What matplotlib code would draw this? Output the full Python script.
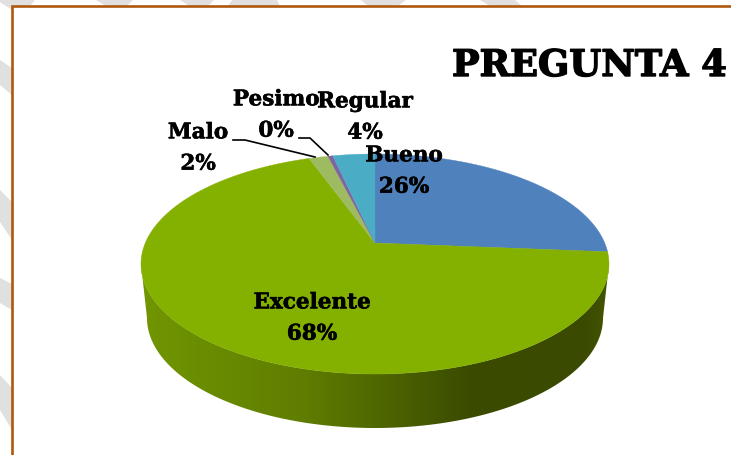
import matplotlib

matplotlib.use("Agg")
import matplotlib.patheffects as pe
import matplotlib.pyplot as plt
import numpy as np
from matplotlib.patches import Polygon

categories = ["Bueno", "Excelente", "Malo", "Pesimo", "Regular"]
shares = [26.3, 68.2, 1.6, 0.4, 3.5]

COLORS = ["#4f81bd", "#84b000", "#9fbb62", "#8064a2", "#4bacc6"]
LABEL_POS = [(404, 171), (312, 318), (198, 148), (276, 115), (365, 117)]
SIDE_STOPS = [0, 0.35, 0.7, 0.95, 1]
SIDE_SHADES = ["#719600", "#5f7d00", "#3b4c00", "#3a4a00", "#435600"]

# gray bands of the page behind the frame
BANDS = [
    [(0, 0), (35, 0), (30, 6), (12, 6), (12, 10), (0, 2)],
    [(96, 0), (133, 0), (127, 6), (106, 6)],
    [(180, 0), (214, 0), (208, 6), (189, 6)],
    [(232, 0), (277, 0), (280, 6), (228, 6)],
    [(361, 0), (406, 0), (398, 6), (368, 6)],
    [(480, 0), (515, 0), (522, 6), (490, 6)],
    [(0, 60), (0, 85), (12, 95), (12, 68)],
    [(0, 190), (0, 222), (12, 240), (12, 202)],
    [(0, 278), (0, 303), (12, 310), (12, 284)],
    [(0, 375), (0, 410), (12, 430), (12, 388)],
]

APEX_X, APEX_Y = 375, 243
PERSP = 0.191
SCALE_X, SCALE_Y = 229.7, 106
RIM_RX, RIM_RY, RIM_CY = 234, 110, 264
BASE_RX, BASE_CY = 228, 318


def project(theta):
    u, v = np.sin(theta), np.cos(theta)
    denom = 1 + PERSP * v
    return APEX_X + SCALE_X * u / denom, APEX_Y - SCALE_Y * v / denom


fig = plt.figure(figsize=(7.31, 4.55), dpi=100)
ax = fig.add_axes([0, 0, 1, 1])
ax.set_xlim(0, 731)
ax.set_ylim(455, 0)
ax.axis("off")

for band in BANDS:
    ax.add_patch(Polygon(band, closed=True, fc="#e0e0e0", ec="none", zorder=0))

ax.plot([731, 12, 12], [6, 6, 455], color="#b0570f", lw=1.9, solid_joinstyle="miter", zorder=1)

# side of the disc
t = np.linspace(0, np.pi, 200)
top_x, top_y = APEX_X + RIM_RX * np.cos(t), RIM_CY + RIM_RY * np.sin(t)
bot_x, bot_y = APEX_X + BASE_RX * np.cos(t), BASE_CY + RIM_RY * np.sin(t)
side = Polygon(
    np.column_stack([np.r_[top_x, bot_x[::-1]], np.r_[top_y, bot_y[::-1]]]),
    closed=True, fc="none", ec="none",
)
ax.add_patch(side)
grad_x = np.linspace(0, 1, 256)
rgb = np.array([matplotlib.colors.to_rgb(c) for c in SIDE_SHADES])
grad = np.stack([np.interp(grad_x, SIDE_STOPS, rgb[:, i]) for i in range(3)], axis=-1)[None, :, :]
img = ax.imshow(grad, extent=(141, 609, 430, 260), aspect="auto", zorder=2, interpolation="bilinear")
img.set_clip_path(side)
ax.set_xlim(0, 731)
ax.set_ylim(455, 0)

# top of the disc, clockwise from 12 o'clock
edges = np.r_[0, np.cumsum(shares)] / np.sum(shares) * 2 * np.pi
for start, end, color in zip(edges[:-1], edges[1:], COLORS):
    theta = np.linspace(start, end, max(int((end - start) * 80), 4))
    x, y = project(theta)
    ax.fill(np.r_[APEX_X, x], np.r_[APEX_Y, y], color=color, lw=0.3, zorder=3)

ax.plot([233, 245, 315], [140, 140, 157], color="black", lw=1.2, zorder=4)
ax.plot([299, 310, 328], [138, 138, 155], color="black", lw=1.2, zorder=4)

font = dict(family="DejaVu Serif", weight="bold", color="black")
for name, share, (lx, ly) in zip(categories, shares, LABEL_POS):
    ax.text(lx, ly, f"{name}\n{share:.0f}%", ha="center", va="center", fontsize=15.5,
            linespacing=1.55, zorder=5,
            path_effects=[pe.withStroke(linewidth=0.4, foreground="black")], **font)

ax.text(452, 66, "PREGUNTA 4", ha="left", va="center", fontsize=26.4, zorder=5,
        path_effects=[pe.withStroke(linewidth=1.0, foreground="black")], **font)

fig.savefig("out.png", dpi=100)
